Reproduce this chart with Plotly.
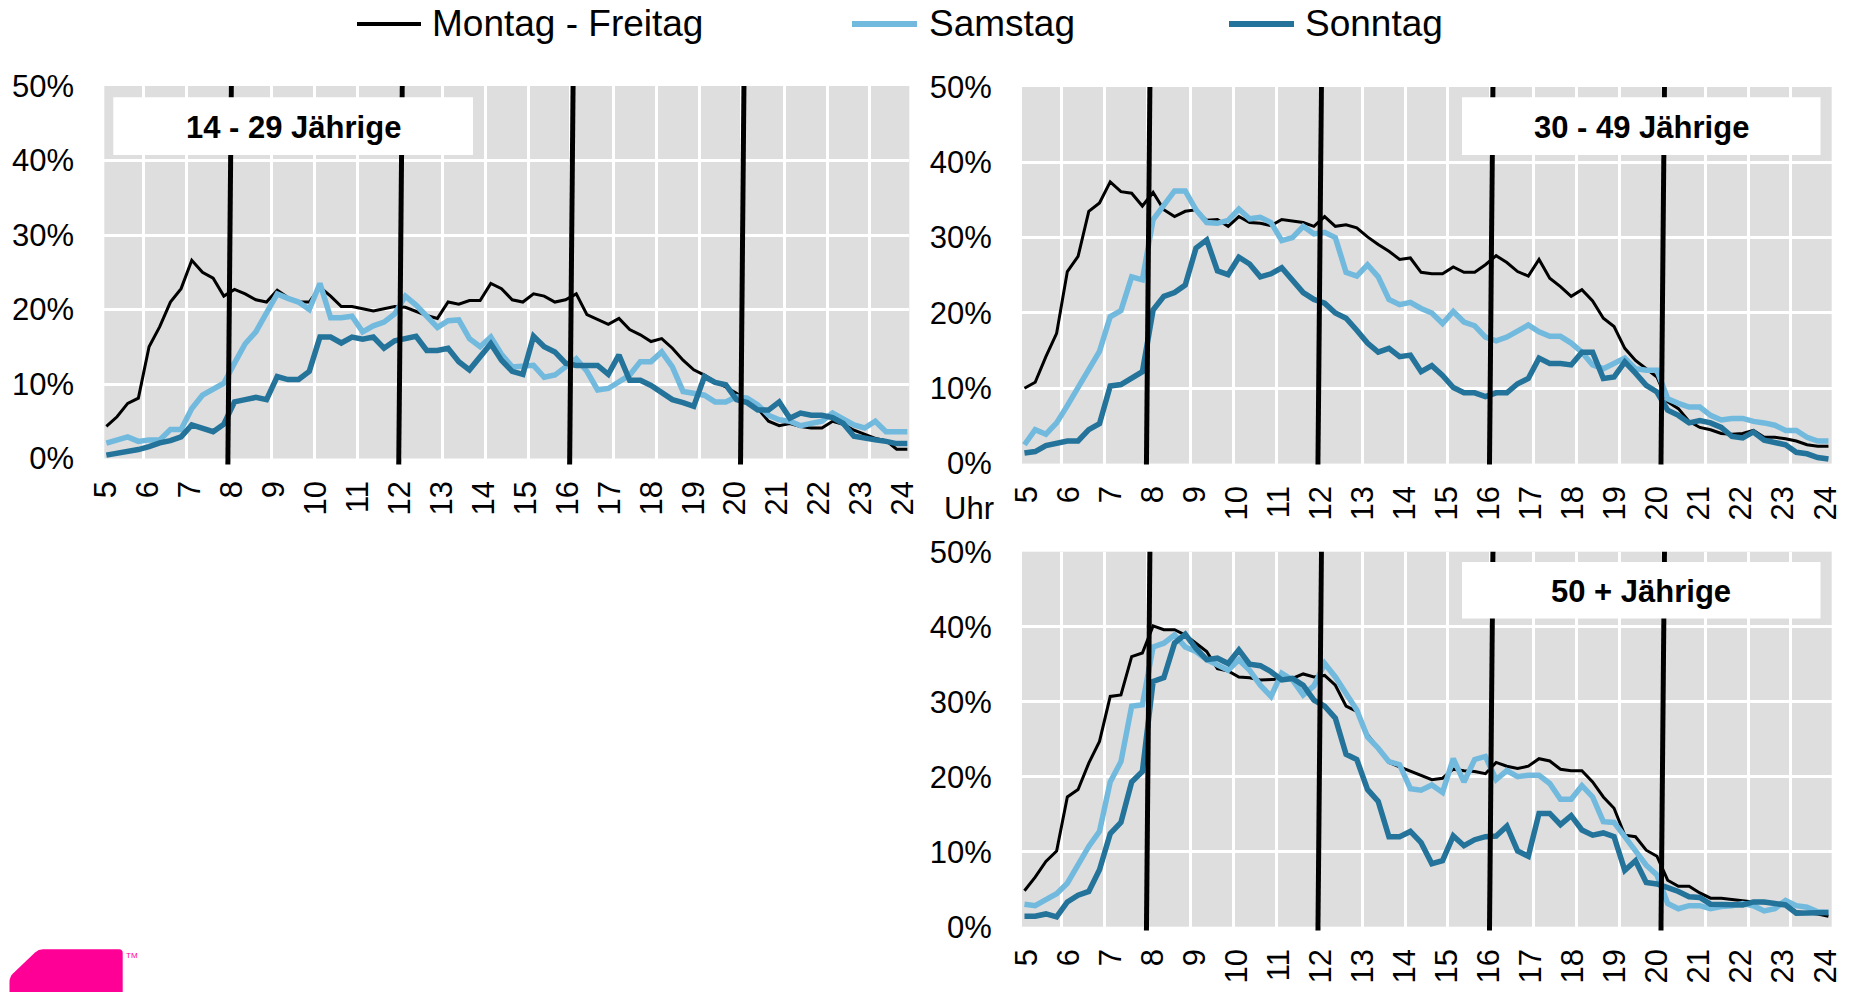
import plotly.graph_objects as go

W, H = 1849, 992
FONT = "Liberation Sans, Arial, sans-serif"

# ---------------- data ----------------
SERIES = ["Montag - Freitag", "Samstag", "Sonntag"]
PANELS = ["14 - 29 Jährige", "30 - 49 Jährige", "50 + Jährige"]
HOUR_LABELS = [str(h) for h in range(5, 25)]
Y_TICKS = [0, 10, 20, 30, 40, 50]
Y_LABELS = ["0%", "10%", "20%", "30%", "40%", "50%"]
# quarter-hour slots 5:00-5:15 ... 23:45-24:00 (slot midpoints, in hours)
TIME = [5.125 + 0.25 * i for i in range(76)]

# 14 - 29 Jährige
mf1 = [4.3, 5.6, 7.4, 8.1, 15.0, 17.7, 21.0, 22.8, 26.6, 25.0,
       24.2, 21.8, 22.7, 22.1, 21.3, 21.0, 22.6, 21.6, 21.0, 21.0,
       23.0, 21.8, 20.4, 20.4, 20.1, 19.8, 20.1, 20.4, 20.3, 19.7,
       19.2, 18.8, 21.0, 20.7, 21.2, 21.2, 23.5, 22.8, 21.3, 21.0,
       22.1, 21.8, 21.0, 21.3, 22.1, 19.3, 18.7, 18.0, 18.8, 17.3,
       16.6, 15.7, 16.1, 14.8, 13.2, 11.9, 11.2, 10.3, 9.6, 8.75,
       7.6, 6.7, 5.0, 4.4, 4.7, 4.3, 4.1, 4.1, 5.0, 4.6,
       3.8, 3.2, 2.7, 2.4, 1.25, 1.25]
sa1 = [2.05, 2.4, 2.9, 2.3, 2.5, 2.5, 3.9, 3.9, 6.7, 8.5,
       9.4, 10.1, 12.8, 15.4, 17.0, 19.5, 22.1, 21.5, 21.0, 20.0,
       23.5, 18.9, 18.9, 19.1, 17.0, 17.8, 18.3, 19.4, 21.8, 20.6,
       19.2, 17.6, 18.5, 18.6, 16.1, 15.0, 16.3, 14.0, 12.3, 12.4,
       12.5, 10.9, 11.2, 12.3, 13.4, 11.7, 9.2, 9.4, 10.3, 11.2,
       13.0, 13.0, 14.3, 12.3, 9.0, 8.75, 8.5, 7.6, 7.6, 8.3,
       8.1, 7.2, 5.8, 5.2, 5.0, 4.4, 4.7, 5.0, 6.1, 5.2,
       4.5, 4.1, 5.0, 3.6, 3.6, 3.6]
so1 = [0.45, 0.7, 0.8, 1.2, 1.6, 2.1, 2.4, 2.9, 4.5, 4.1,
       3.6, 4.6, 7.6, 7.9, 8.2, 7.9, 11.0, 10.6, 10.6, 11.7,
       16.3, 16.3, 15.5, 16.3, 16.0, 16.3, 14.8, 15.8, 16.1, 16.4,
       14.5, 14.5, 14.8, 13.0, 11.9, 13.7, 15.4, 13.2, 11.7, 11.3,
       16.4, 15.0, 14.3, 12.8, 12.5, 12.5, 12.5, 11.3, 13.9, 10.5,
       10.5, 9.8, 8.8, 7.9, 7.5, 7.0, 11.0, 10.2, 9.9, 7.9,
       7.5, 6.5, 6.5, 7.6, 5.4, 6.1, 5.8, 5.8, 5.5, 4.7,
       3.0, 2.7, 2.5, 2.3, 2.0, 2.0]

# 30 - 49 Jährige
mf2 = [10.0, 10.8, 14.2, 17.3, 25.5, 27.5, 33.5, 34.6, 37.4, 36.1,
       35.9, 34.2, 36.0, 33.7, 32.8, 33.5, 33.7, 32.3, 32.4, 31.5,
       32.8, 32.0, 31.9, 31.6, 32.4, 32.2, 32.0, 31.5, 32.8, 31.5,
       31.7, 31.3, 30.1, 29.1, 28.2, 27.1, 27.3, 25.4, 25.2, 25.2,
       26.1, 25.4, 25.4, 26.4, 27.6, 26.7, 25.5, 24.9, 27.1, 24.6,
       23.5, 22.2, 23.1, 21.6, 19.3, 18.2, 15.3, 13.7, 12.6, 11.5,
       8.2, 7.3, 5.6, 4.8, 4.5, 4.0, 3.9, 4.0, 4.4, 3.5,
       3.5, 3.3, 3.0, 2.5, 2.3, 2.3]
sa2 = [2.5, 4.5, 3.9, 5.4, 7.7, 10.2, 12.6, 14.9, 19.5, 20.3,
       24.8, 24.4, 32.4, 34.2, 36.2, 36.2, 33.7, 32.0, 31.9, 32.3,
       33.8, 32.5, 32.7, 32.0, 29.6, 30.0, 31.5, 30.5, 30.7, 30.0,
       25.4, 24.9, 26.4, 24.8, 21.8, 21.1, 21.4, 20.6, 20.0, 18.6,
       20.2, 18.8, 18.3, 16.8, 16.3, 16.8, 17.7, 18.4, 17.5, 16.9,
       16.9, 16.0, 14.8, 13.1, 12.6, 13.3, 14.0, 12.6, 12.4, 12.4,
       8.6, 8.0, 7.5, 7.5, 6.4, 5.8, 6.0, 6.0, 5.6, 5.4,
       5.1, 4.4, 4.4, 3.5, 3.0, 3.0]
so2 = [1.4, 1.6, 2.4, 2.7, 3.0, 3.0, 4.5, 5.3, 10.3, 10.5,
       11.3, 12.2, 20.4, 22.2, 22.7, 23.7, 28.6, 29.7, 25.6, 25.1,
       27.4, 26.5, 24.8, 25.2, 26.0, 24.4, 22.7, 21.8, 21.3, 20.0,
       19.3, 17.7, 16.0, 14.8, 15.3, 14.2, 14.4, 12.2, 13.0, 11.7,
       10.1, 9.4, 9.4, 8.9, 9.4, 9.4, 10.6, 11.3, 14.0, 13.3,
       13.3, 13.1, 14.8, 14.8, 11.3, 11.5, 13.5, 12.0, 10.4, 9.5,
       7.1, 6.4, 5.4, 5.7, 5.4, 4.8, 3.6, 3.4, 4.2, 3.1,
       2.8, 2.5, 1.5, 1.3, 0.8, 0.6]

# 50 + Jährige
mf3 = [4.8, 6.6, 8.7, 10.1, 17.3, 18.3, 21.8, 24.7, 30.7, 30.9,
       36.0, 36.5, 40.1, 39.6, 39.6, 38.9, 37.8, 36.7, 34.4, 34.1,
       33.3, 33.2, 32.9, 32.9, 33.0, 33.1, 33.7, 33.3, 33.5, 32.2,
       29.4, 28.7, 25.6, 23.8, 21.9, 21.3, 20.7, 20.2, 19.6, 19.8,
       21.0, 20.8, 20.7, 20.4, 21.9, 21.4, 21.1, 21.4, 22.4, 22.1,
       21.0, 20.8, 20.8, 19.3, 17.3, 15.8, 12.2, 12.0, 10.2, 9.4,
       6.2, 5.4, 5.4, 4.5, 3.8, 3.8, 3.6, 3.5, 3.3, 3.2,
       3.0, 2.9, 2.0, 1.9, 1.7, 1.4]
sa3 = [3.0, 2.8, 3.6, 4.4, 5.8, 8.2, 10.7, 12.7, 19.3, 22.0,
       29.4, 29.6, 37.3, 37.8, 38.9, 37.3, 36.7, 35.6, 34.9, 34.2,
       35.6, 34.2, 32.2, 30.7, 33.8, 32.9, 30.9, 32.1, 35.1, 33.3,
       31.1, 28.9, 25.3, 23.8, 22.0, 21.6, 18.4, 18.2, 18.9, 17.9,
       22.4, 19.3, 22.3, 22.7, 19.6, 20.8, 20.0, 20.2, 20.2, 19.1,
       17.0, 17.0, 18.8, 17.3, 14.0, 13.9, 12.0, 10.0, 8.2, 6.9,
       3.1, 2.4, 2.8, 2.8, 2.4, 2.7, 2.8, 3.1, 2.8, 2.1,
       2.4, 3.5, 2.8, 2.6, 2.0, 1.9]
so3 = [1.4, 1.4, 1.7, 1.3, 3.3, 4.2, 4.7, 7.6, 12.4, 13.9,
       19.3, 20.7, 32.7, 33.2, 37.8, 39.0, 37.1, 35.6, 35.8, 35.1,
       36.9, 35.0, 34.8, 34.0, 32.9, 33.1, 32.2, 30.2, 29.4, 27.8,
       23.0, 22.3, 18.3, 16.7, 12.0, 12.0, 12.7, 11.2, 8.4, 8.8,
       12.1, 10.8, 11.6, 12.0, 12.1, 13.4, 10.1, 9.4, 15.1, 15.1,
       13.6, 14.8, 12.9, 12.2, 12.5, 12.0, 7.5, 8.8, 5.9, 5.7,
       5.2, 4.7, 4.0, 3.9, 3.0, 3.0, 3.0, 2.9, 3.3, 3.3,
       3.1, 2.9, 1.8, 1.8, 1.9, 1.9]

MARK_HOURS = [8, 12, 16, 20]

# ---------------- styling ----------------
COLORS = ["#000000", "#72b9de", "#23739a"]
WIDTHS = [3, 5.5, 5.5]
BG = "#dedede"


def pxx(px):
    return px / W


def pxy(py):
    return 1 - py / H


# geometry of each panel in pixels
PANEL_GEOM = [
    dict(x0=104.3, x1=909.3, y0=86.0, y1=458.5, h5=101.0, hs=42.72,
         lab0=106.0, labs=41.96, box=(113.3, 97.3, 473.0, 155.0), vbot=464.5,
         data=(mf1, sa1, so1)),
    dict(x0=1022.0, x1=1831.7, y0=87.0, y1=463.6, h5=1019.1, hs=42.88,
         lab0=1026.5, labs=42.05, box=(1462.0, 97.3, 1820.5, 155.0), vbot=464.5,
         data=(mf2, sa2, so2)),
    dict(x0=1022.0, x1=1831.7, y0=551.7, y1=926.7, h5=1019.1, hs=42.88,
         lab0=1026.5, labs=42.05, box=(1462.0, 562.0, 1820.5, 618.5), vbot=930.5,
         data=(mf3, sa3, so3)),
]

fig = go.Figure()
shapes = []
annotations = []
layout = {}

for p, g in enumerate(PANEL_GEOM):
    sfx = "" if p == 0 else str(p + 1)
    xa, ya = "x" + sfx, "y" + sfx
    for s in range(3):
        fig.add_trace(go.Scatter(
            x=TIME, y=g["data"][s], mode="lines", name=SERIES[s],
            line=dict(color=COLORS[s], width=WIDTHS[s]),
            xaxis=xa, yaxis=ya, showlegend=False, hoverinfo="skip"))

    to_h = lambda px, g=g: 5 + (px - g["h5"]) / g["hs"]
    xr = [to_h(g["x0"]), to_h(g["x1"])]
    labpos = [to_h(g["lab0"] + k * g["labs"]) for k in range(len(HOUR_LABELS))]

    layout["xaxis" + sfx] = dict(
        domain=[pxx(g["x0"]), pxx(g["x1"])], range=xr, anchor=ya,
        tickmode="array", tickvals=labpos, ticktext=HOUR_LABELS,
        tickangle=-90, tickfont=dict(family=FONT, size=31, color="black"),
        ticks="outside", ticklen=9, tickcolor="rgba(0,0,0,0)",
        showgrid=False, zeroline=False, showline=False, fixedrange=True,
        automargin=False,
        minor=dict(tickmode="array", tickvals=list(range(5, 25)), showgrid=True,
                   gridcolor="white", gridwidth=3, ticks=""))
    layout["yaxis" + sfx] = dict(
        domain=[pxy(g["y1"]), pxy(g["y0"])], range=[0, 50], anchor=xa,
        tickmode="array", tickvals=Y_TICKS, ticktext=Y_LABELS,
        tickfont=dict(family=FONT, size=31, color="black"),
        ticks="outside", ticklen=23, tickcolor="rgba(0,0,0,0)",
        showgrid=True, gridcolor="white", gridwidth=3,
        zeroline=False, showline=False, fixedrange=True, automargin=False)

    # slanted black hour markers
    for h in MARK_HOURS:
        shapes.append(dict(type="line", xref=xa, yref="paper",
                           x0=h + 0.05, y0=pxy(g["y0"]), x1=h - 0.03, y1=pxy(g["vbot"]),
                           line=dict(color="black", width=5)))

for p, g in enumerate(PANEL_GEOM):
    bx0, by0, bx1, by1 = g["box"]
    shapes.append(dict(type="rect", xref="paper", yref="paper",
                       x0=pxx(bx0), x1=pxx(bx1), y0=pxy(by1), y1=pxy(by0),
                       fillcolor="white", line=dict(width=0)))
    annotations.append(dict(xref="paper", yref="paper", x=pxx((bx0 + bx1) / 2),
                            y=pxy((by0 + by1) / 2 + 1), text="<b>" + PANELS[p] + "</b>",
                            showarrow=False, xanchor="center", yanchor="middle",
                            font=dict(family=FONT, size=31, color="black")))

# manual legend
LEG = [(357, 421, 430), (852, 917, 927), (1229, 1294, 1303)]
for s, (l0, l1, tx) in enumerate(LEG):
    shapes.append(dict(type="line", xref="paper", yref="paper",
                       x0=pxx(l0), x1=pxx(l1), y0=pxy(24), y1=pxy(24),
                       line=dict(color=COLORS[s], width=4 if s == 0 else 6)))
    annotations.append(dict(xref="paper", yref="paper", x=pxx(tx), y=pxy(24),
                            text=SERIES[s], showarrow=False, xanchor="left",
                            yanchor="middle",
                            font=dict(family=FONT, size=37, color="black")))

annotations.append(dict(xref="paper", yref="paper", x=pxx(969), y=pxy(508),
                        text="Uhr", showarrow=False, xanchor="center", yanchor="middle",
                        font=dict(family=FONT, size=31, color="black")))

# logo fragment at bottom left
def P(x, y):
    return f"{x / W:.5f},{1 - y / H:.5f}"

logo = ("M" + P(9.5, 992) + " L" + P(9.5, 982) + " Q" + P(9.5, 977) + " " + P(13, 973.5) +
        " L" + P(35, 952.5) + " Q" + P(38.5, 949.3) + " " + P(43, 949.3) +
        " L" + P(119, 949.3) + " Q" + P(122.7, 949.3) + " " + P(122.7, 953) +
        " L" + P(122.7, 992) + " Z")
shapes.append(dict(type="path", xref="paper", yref="paper", path=logo,
                   fillcolor="#ff0096", line=dict(width=0)))
annotations.append(dict(xref="paper", yref="paper", x=pxx(124), y=pxy(949),
                        text="TM", showarrow=False, xanchor="left", yanchor="top",
                        font=dict(family=FONT, size=8, color="#ff0096")))

fig.update_layout(
    width=W, height=H, autosize=False,
    margin=dict(l=0, r=0, t=0, b=0, pad=0, autoexpand=False),
    paper_bgcolor="white", plot_bgcolor=BG,
    showlegend=False, shapes=shapes, annotations=annotations,
    font=dict(family=FONT, color="black"),
    **layout)

fig.write_html("out.html", include_plotlyjs=True, full_html=True,
               config={"displayModeBar": False, "staticPlot": True},
               post_script="document.body.style.margin='0';document.body.style.overflow='hidden';")
